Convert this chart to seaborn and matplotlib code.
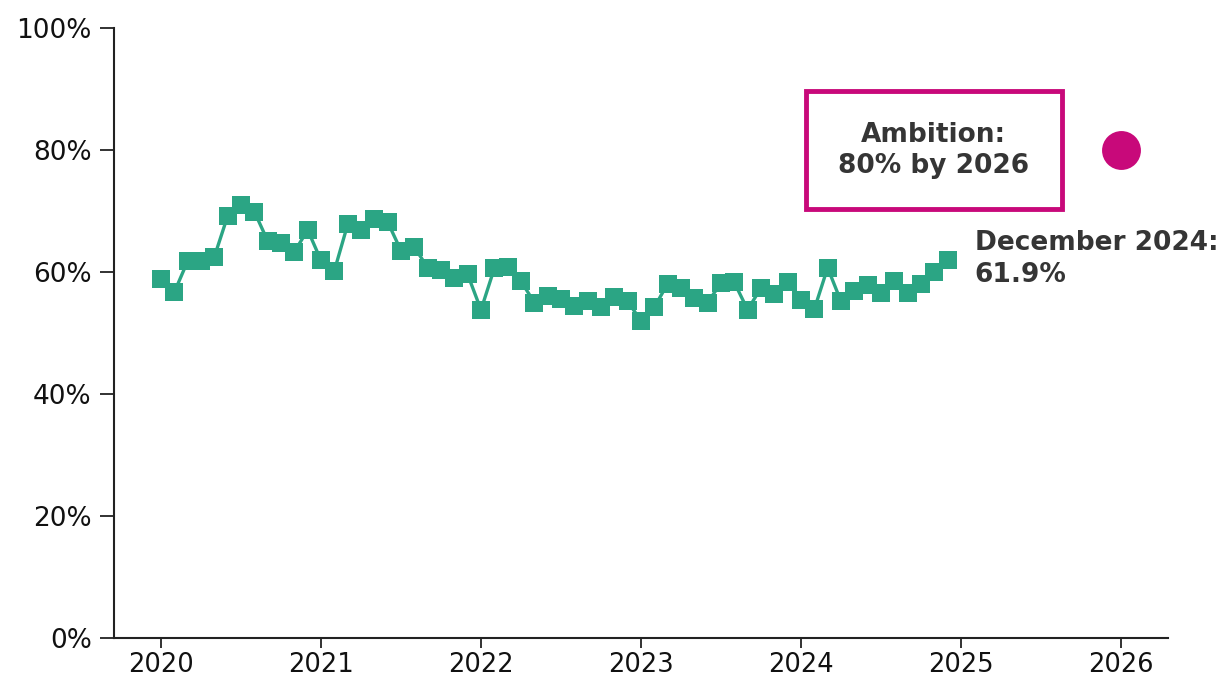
import numpy as np
import pandas as pd
import matplotlib
matplotlib.use("Agg")
import matplotlib.pyplot as plt
from matplotlib.patches import Rectangle
import seaborn as sns

# Monthly share (%) from January 2020 to December 2024
share_2020 = [58.9, 56.7, 61.8, 61.8, 62.5, 69.2, 71.0, 69.9, 65.1, 64.7, 63.3, 66.9]
share_2021 = [61.9, 60.2, 67.8, 66.9, 68.7, 68.2, 63.5, 64.1, 60.7, 60.3, 59.1, 59.6]
share_2022 = [53.8, 60.6, 60.8, 58.5, 55.0, 56.0, 55.6, 54.5, 55.2, 54.3, 55.9, 55.2]
share_2023 = [52.0, 54.2, 58.1, 57.4, 55.8, 55.0, 58.2, 58.3, 53.8, 57.4, 56.4, 58.4]
share_2024 = [55.4, 53.9, 60.7, 55.2, 56.9, 57.9, 56.6, 58.5, 56.6, 58.0, 60.0, 61.9]
years = [2020, 2021, 2022, 2023, 2024]

ambition_year = 2026
ambition_value = 80.0
x_ticks = [2020, 2021, 2022, 2023, 2024, 2025, 2026]
y_ticks = [0, 20, 40, 60, 80, 100]

green = "#2BA584"
magenta = "#C8097A"
text_dark = "#353535"

values = share_2020 + share_2021 + share_2022 + share_2023 + share_2024
dates = [y + m / 12 for y in years for m in range(12)]
df = pd.DataFrame({"date": dates, "share": values})

sns.set_theme(style="white")
plt.rcParams["font.family"] = ["DejaVu Sans"]

fig = plt.figure(figsize=(12.27, 6.82), dpi=100)
ax = fig.add_axes([0.0929, 0.0645, 0.8590, 0.8944])

sns.lineplot(data=df, x="date", y="share", ax=ax, color=green, linewidth=2.4,
             marker="s", markersize=12.5, markeredgewidth=0, markerfacecolor=green)

# Target point
ax.plot([ambition_year], [ambition_value], marker="o", markersize=28,
        color=magenta, markeredgewidth=0, linestyle="none")

# Ambition callout box
box = Rectangle((2024.03, 70.3), 1.60, 19.4, fill=False, edgecolor=magenta,
                linewidth=3.5, zorder=5)
ax.add_patch(box)
ax.text(2024.83, 80.0, "Ambition:\n80% by 2026", ha="center", va="center",
        fontsize=19, fontweight="bold", color=text_dark, linespacing=1.25)

# Latest value label
last_date = dates[-1]
last_value = values[-1]
ax.text(last_date + 0.17, last_value + 0.3, f"December 2024:\n{last_value:.1f}%",
        ha="left", va="center", fontsize=19, fontweight="bold",
        color=text_dark, linespacing=1.3)

ax.set_xlim(2019.706, 2026.294)
ax.set_ylim(0, 100)
ax.set_xticks(x_ticks)
ax.set_xticklabels([str(t) for t in x_ticks])
ax.set_yticks(y_ticks)
ax.set_yticklabels([f"{t}%" for t in y_ticks])
ax.set_xlabel("")
ax.set_ylabel("")

for side in ["top", "right"]:
    ax.spines[side].set_visible(False)
for side in ["left", "bottom"]:
    ax.spines[side].set_color("#222222")
    ax.spines[side].set_linewidth(1.5)

ax.tick_params(axis="both", which="major", width=1.3, color="#222222",
               labelcolor="#111111", direction="out", left=True, bottom=True)
ax.tick_params(axis="y", length=10, labelsize=19, pad=6)
ax.tick_params(axis="x", length=7, labelsize=18.5, pad=3)

fig.savefig("out.png", dpi=100, facecolor="white")
